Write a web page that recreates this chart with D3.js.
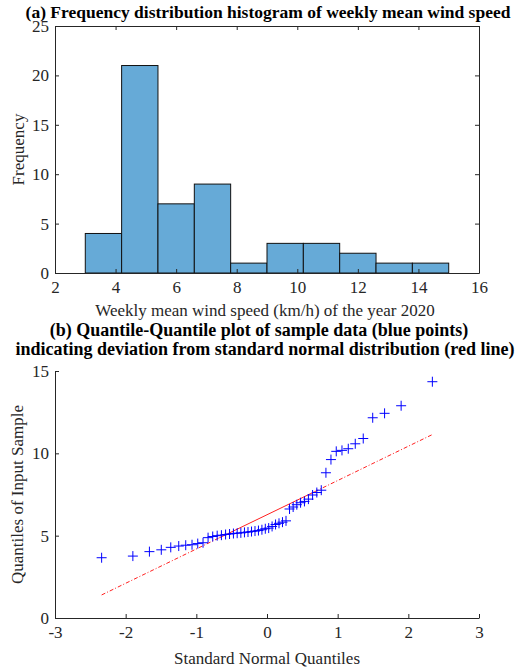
<!DOCTYPE html>
<html>
<head>
<meta charset="utf-8">
<script src="https://d3js.org/d3.v7.min.js"></script>
<style>
  body { margin: 0; background: #fff; }
  text { font-family: "Liberation Serif", "Times New Roman", serif; }
  .axis path, .axis line { stroke: #262626; stroke-width: 1; }
  .axis text { fill: #262626; font-size: 17px; font-family: "Liberation Serif", serif; }
  .lbl { fill: #262626; font-size: 17px; }
  .ttl { fill: #000; font-size: 17.5px; font-weight: bold; }
</style>
</head>
<body>
<div id="chart"></div>
<script>
// histogram (a): bin edges and counts
var binEdges = [3, 4.2, 5.4, 6.6, 7.8, 9, 10.2, 11.4, 12.6, 13.8, 15];
var binCounts = [4, 21, 7, 9, 1, 3, 3, 2, 1, 1];
var histXTicks = [2, 4, 6, 8, 10, 12, 14, 16];
var histYTicks = [0, 5, 10, 15, 20, 25];

// qq plot (b): theoretical quantiles and sorted sample values
var normQuantiles = [-2.340, -1.898, -1.664, -1.496, -1.362, -1.249, -1.150, -1.061, -0.980, -0.905,
  -0.834, -0.768, -0.705, -0.645, -0.586, -0.530, -0.475, -0.422, -0.370, -0.319,
  -0.269, -0.219, -0.170, -0.121, -0.072, -0.024, 0.024, 0.072, 0.121, 0.170,
  0.219, 0.269, 0.319, 0.370, 0.422, 0.475, 0.530, 0.586, 0.645, 0.705,
  0.768, 0.834, 0.905, 0.980, 1.061, 1.150, 1.249, 1.362, 1.496, 1.664,
  1.898, 2.340];
var sampleValues = [3.66, 3.76, 4.03, 4.14, 4.29, 4.37, 4.42, 4.45, 4.52, 4.57,
  4.88, 4.95, 5.00, 5.03, 5.07, 5.10, 5.13, 5.15, 5.17, 5.20,
  5.22, 5.25, 5.28, 5.31, 5.36, 5.42, 5.46, 5.56, 5.68, 5.75,
  5.82, 5.90, 6.62, 6.74, 6.88, 7.00, 7.08, 7.22, 7.47, 7.62,
  7.76, 8.82, 9.62, 10.12, 10.18, 10.28, 10.58, 10.90, 12.16, 12.43,
  12.89, 14.35];
// reference line: ends (dash-dot) and quartile part (solid)
var refLineX = [-2.34, -0.6745, 0.6745, 2.34];
var refLineY = [1.40, 4.87, 7.67, 11.14];
var qqXTicks = [-3, -2, -1, 0, 1, 2, 3];
var qqYTicks = [0, 5, 10, 15];

var W = 517, H = 671;
var svg = d3.select("#chart").append("svg")
  .attr("width", W).attr("height", H);

var fmt = function(d) { return String(d); };
var serif = "Liberation Serif, serif";

// ---------- (a) histogram ----------
var a = {left: 55, right: 479, top: 26, bottom: 273};
var xa = d3.scaleLinear().domain([2, 16]).range([a.left, a.right]);
var ya = d3.scaleLinear().domain([0, 25]).range([a.bottom, a.top]);

var bins = binCounts.map(function(c, i) { return {x0: binEdges[i], x1: binEdges[i + 1], n: c}; });

svg.append("g").selectAll("rect")
  .data(bins).enter().append("rect")
    .attr("x", function(d) { return xa(d.x0); })
    .attr("y", function(d) { return ya(d.n); })
    .attr("width", function(d) { return xa(d.x1) - xa(d.x0); })
    .attr("height", function(d) { return ya(0) - ya(d.n); })
    .attr("fill", "#66aad7")
    .attr("stroke", "#111")
    .attr("stroke-width", 1);

svg.append("g").attr("class", "axis")
  .attr("transform", "translate(0," + a.bottom + ")")
  .call(d3.axisBottom(xa).tickValues(histXTicks).tickFormat(fmt).tickSizeInner(-4).tickSizeOuter(0).tickPadding(8))
  .attr("font-family", serif);
svg.append("g").attr("class", "axis")
  .attr("transform", "translate(0," + a.top + ")")
  .call(d3.axisTop(xa).tickValues(histXTicks).tickSizeInner(-4).tickSizeOuter(0).tickFormat(""));
svg.append("g").attr("class", "axis")
  .attr("transform", "translate(" + a.left + ",0)")
  .call(d3.axisLeft(ya).tickValues(histYTicks).tickFormat(fmt).tickSizeInner(-4).tickSizeOuter(0).tickPadding(6))
  .attr("font-family", serif);
svg.append("g").attr("class", "axis")
  .attr("transform", "translate(" + a.right + ",0)")
  .call(d3.axisRight(ya).tickValues(histYTicks).tickSizeInner(-4).tickSizeOuter(0).tickFormat(""));

svg.append("text").attr("class", "ttl")
  .attr("x", 268).attr("y", 18).attr("text-anchor", "middle")
  .text("(a) Frequency distribution histogram of weekly mean wind speed");
svg.append("text").attr("class", "lbl")
  .attr("x", (a.left + a.right) / 2 - 2).attr("y", 316).attr("text-anchor", "middle")
  .text("Weekly mean wind speed (km/h) of the year 2020");
svg.append("text").attr("class", "lbl")
  .attr("transform", "translate(24," + (a.top + a.bottom) / 2 + ")rotate(-90)")
  .attr("text-anchor", "middle")
  .text("Frequency");

// ---------- (b) qq plot ----------
var b = {left: 55, right: 479, top: 371, bottom: 618};
var xb = d3.scaleLinear().domain([-3, 3]).range([b.left, b.right]);
var yb = d3.scaleLinear().domain([0, 15]).range([b.bottom, b.top]);

svg.append("g").attr("class", "axis")
  .attr("transform", "translate(0," + b.bottom + ")")
  .call(d3.axisBottom(xb).tickValues(qqXTicks).tickFormat(fmt).tickSizeInner(-4).tickSizeOuter(0).tickPadding(8))
  .attr("font-family", serif);
svg.append("g").attr("class", "axis")
  .attr("transform", "translate(" + b.left + ",0)")
  .call(d3.axisLeft(yb).tickValues(qqYTicks).tickFormat(fmt).tickSizeInner(-4).tickSizeOuter(0).tickPadding(6))
  .attr("font-family", serif);

var line = d3.line().x(function(d) { return xb(d[0]); }).y(function(d) { return yb(d[1]); });
var ref = refLineX.map(function(v, i) { return [v, refLineY[i]]; });
// dash-dot extensions
svg.append("path").attr("d", line([ref[0], ref[1]]))
  .attr("stroke", "#ff2020").attr("stroke-width", 1).attr("fill", "none")
  .attr("stroke-dasharray", "4,2,1,2");
svg.append("path").attr("d", line([ref[2], ref[3]]))
  .attr("stroke", "#ff2020").attr("stroke-width", 1).attr("fill", "none")
  .attr("stroke-dasharray", "4,2,1,2");
svg.append("path").attr("d", line([ref[1], ref[2]]))
  .attr("stroke", "#ff2020").attr("stroke-width", 1).attr("fill", "none");

var pts = normQuantiles.map(function(v, i) { return [v, sampleValues[i]]; });
var s = 5;
svg.append("g").selectAll("path")
  .data(pts).enter().append("path")
    .attr("d", function(d) {
      var cx = xb(d[0]), cy = yb(d[1]);
      return "M" + (cx - s) + "," + cy + "H" + (cx + s) + "M" + cx + "," + (cy - s) + "V" + (cy + s);
    })
    .attr("stroke", "#0000ff").attr("stroke-width", 1).attr("fill", "none");

svg.append("text").attr("class", "ttl")
  .attr("x", 259).attr("y", 336).attr("text-anchor", "middle")
  .style("font-size", "18px")
  .text("(b) Quantile-Quantile plot of sample data (blue points)");
svg.append("text").attr("class", "ttl")
  .attr("x", 265).attr("y", 355).attr("text-anchor", "middle")
  .style("font-size", "18px")
  .text("indicating deviation from standard normal distribution (red line)");
svg.append("text").attr("class", "lbl")
  .attr("x", (b.left + b.right) / 2).attr("y", 664).attr("text-anchor", "middle")
  .text("Standard Normal Quantiles");
svg.append("text").attr("class", "lbl")
  .attr("transform", "translate(23," + (b.top + b.bottom) / 2 + ")rotate(-90)")
  .attr("text-anchor", "middle")
  .text("Quantiles of Input Sample");
</script>
</body>
</html>
